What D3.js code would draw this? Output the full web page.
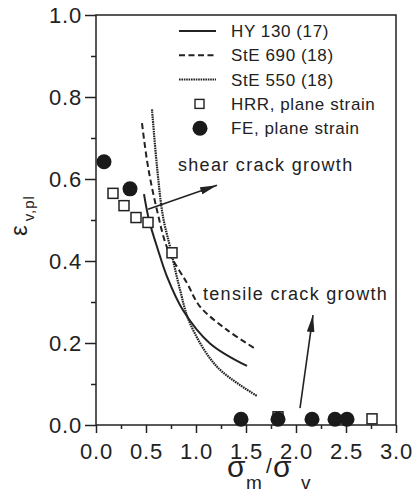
<!DOCTYPE html>
<html lang="en">

<head>
  <meta charset="UTF-8">
  <title>eps v,pl vs sigma m / sigma v</title>
  <script src="https://d3js.org/d3.v7.min.js"></script>
</head>
<style>
  body { margin: 0; background: #fff; }
  text { font-family: "Liberation Sans", Arial, sans-serif; fill: #222; }
</style>

<body>
  <svg width="417" height="500"></svg>
</body>
<script>
  // ---- data ----
  const xTicks = [0, 0.5, 1.0, 1.5, 2.0, 2.5, 3.0];
  const xMinorTicks = [0.25, 0.75, 1.25, 1.75, 2.25, 2.75];
  const yTicks = [0, 0.2, 0.4, 0.6, 0.8, 1.0];
  const yMinorTicks = [0.1, 0.3, 0.5, 0.7, 0.9];

  // curves [sigma_m/sigma_v, eps_v,pl]
  const hy130 = [[0.48, 0.563], [0.53, 0.50], [0.62, 0.427], [0.71, 0.362], [0.87, 0.280], [1.14, 0.199], [1.51, 0.144]];
  const ste690 = [[0.46, 0.736], [0.52, 0.63], [0.61, 0.524], [0.72, 0.427], [0.91, 0.346], [1.04, 0.289], [1.31, 0.232], [1.60, 0.185]];
  const ste550 = [[0.56, 0.770], [0.61, 0.63], [0.67, 0.508], [0.74, 0.435], [0.84, 0.33], [0.94, 0.248], [1.21, 0.142], [1.61, 0.071]];

  // points
  const hrr = [[0.17, 0.565], [0.28, 0.535], [0.40, 0.506], [0.52, 0.494], [0.76, 0.42], [1.82, 0.02], [2.76, 0.015]];
  const fe = [[0.08, 0.642], [0.34, 0.576], [1.45, 0.014], [1.82, 0.014], [2.16, 0.014], [2.39, 0.014], [2.51, 0.014]];

  // arrows [from, to]
  const shearArrow = [[0.52, 0.526], [1.21, 0.585]];
  const tensileArrow = [[2.04, 0.041], [2.17, 0.268]];

  const annotations = [
    { text: 'shear crack growth', x: 0.82, y: 0.62 },
    { text: 'tensile crack growth', x: 1.07, y: 0.305 }
  ];

  const legendItems = [
    { name: 'HY 130 (17)', type: 'solid' },
    { name: 'StE 690 (18)', type: 'dashed' },
    { name: 'StE 550 (18)', type: 'dotted' },
    { name: 'HRR, plane strain', type: 'square' },
    { name: 'FE, plane strain', type: 'circle' }
  ];

  const dashes = { solid: null, dashed: '6,3.5', dotted: '1.6,0.8' };
  const ink = '#222';

  // ---- layout ----
  const svg = d3.select('svg');
  const width = +svg.attr('width');
  const height = +svg.attr('height');
  const margin = { top: 15, right: 21, bottom: 75, left: 96 };
  const innerWidth = width - margin.left - margin.right;
  const innerHeight = height - margin.top - margin.bottom;

  const maingroup = svg.append('g')
    .attr('transform', `translate(${margin.left},${margin.top})`);

  const xScale = d3.scaleLinear().domain([0, 3]).range([0, innerWidth]);
  const yScale = d3.scaleLinear().domain([0, 1]).range([innerHeight, 0]);

  svg.append('defs').append('marker')
    .attr('id', 'head')
    .attr('viewBox', '0 -4 17 8')
    .attr('refX', 17)
    .attr('refY', 0)
    .attr('markerUnits', 'userSpaceOnUse')
    .attr('markerWidth', 17)
    .attr('markerHeight', 8)
    .attr('orient', 'auto')
    .append('path')
    .attr('d', 'M0,-3.8L17,0L0,3.8Z')
    .attr('fill', ink);

  // axes
  const styleAxis = g => {
    g.select('.domain').remove();
    g.selectAll('line').attr('stroke', ink).attr('stroke-width', 1.5);
    g.selectAll('text').attr('font-size', '22px').attr('letter-spacing', '0.8px').attr('fill', ink);
  };

  maingroup.append('g')
    .attr('transform', `translate(0,${innerHeight})`)
    .call(d3.axisBottom(xScale).tickValues(xTicks).tickSize(8).tickPadding(10).tickFormat(d3.format('.1f')))
    .call(styleAxis);
  maingroup.append('g')
    .attr('transform', `translate(0,${innerHeight})`)
    .call(d3.axisBottom(xScale).tickValues(xMinorTicks).tickSize(4).tickFormat(''))
    .call(styleAxis);

  maingroup.append('g')
    .call(d3.axisLeft(yScale).tickValues(yTicks).tickSize(11).tickPadding(3).tickFormat(d3.format('.1f')))
    .call(styleAxis);
  maingroup.append('g')
    .call(d3.axisLeft(yScale).tickValues(yMinorTicks).tickSize(5).tickFormat(''))
    .call(styleAxis);

  // frame
  maingroup.append('rect')
    .attr('width', innerWidth)
    .attr('height', innerHeight)
    .attr('fill', 'none')
    .attr('stroke', ink)
    .attr('stroke-width', 1.5);

  // curves
  const line = d3.line()
    .x(d => xScale(d[0]))
    .y(d => yScale(d[1]))
    .curve(d3.curveCatmullRom.alpha(0.5));

  [[hy130, 'solid', 2], [ste690, 'dashed', 2], [ste550, 'dotted', 2.2]].forEach(([pts, type, w]) => {
    maingroup.append('path')
      .attr('d', line(pts))
      .attr('fill', 'none')
      .attr('stroke', ink)
      .attr('stroke-width', w)
      .attr('stroke-dasharray', dashes[type]);
  });

  // arrows
  [shearArrow, tensileArrow].forEach(a => {
    maingroup.append('line')
      .attr('x1', xScale(a[0][0])).attr('y1', yScale(a[0][1]))
      .attr('x2', xScale(a[1][0])).attr('y2', yScale(a[1][1]))
      .attr('stroke', ink)
      .attr('stroke-width', 1.6)
      .attr('marker-end', 'url(#head)');
  });

  // HRR squares then FE circles
  const sq = 10;
  maingroup.selectAll('.hrr').data(hrr).join('rect')
    .attr('class', 'hrr')
    .attr('x', d => xScale(d[0]) - sq / 2)
    .attr('y', d => yScale(d[1]) - sq / 2)
    .attr('width', sq).attr('height', sq)
    .attr('fill', '#fff')
    .attr('stroke', ink)
    .attr('stroke-width', 1.5);

  maingroup.selectAll('.fe').data(fe).join('circle')
    .attr('class', 'fe')
    .attr('cx', d => xScale(d[0]))
    .attr('cy', d => yScale(d[1]))
    .attr('r', 7.5)
    .attr('fill', '#1a1a1a');

  // annotations
  maingroup.selectAll('.note').data(annotations).join('text')
    .attr('class', 'note')
    .attr('x', d => xScale(d.x))
    .attr('y', d => yScale(d.y))
    .attr('font-size', '18px')
    .attr('letter-spacing', '1.3px')
    .text(d => d.text);

  // legend
  const legend = maingroup.append('g').attr('transform', 'translate(83,16)');
  const rows = legend.selectAll('g').data(legendItems).join('g')
    .attr('transform', (d, i) => `translate(0,${i * 24.3})`);

  rows.filter(d => dashes.hasOwnProperty(d.type)).append('line')
    .attr('x1', 0).attr('x2', 37)
    .attr('stroke', ink)
    .attr('stroke-width', 2)
    .attr('stroke-dasharray', d => dashes[d.type]);
  rows.filter(d => d.type === 'square').append('rect')
    .attr('x', 16).attr('y', -4.5).attr('width', 9).attr('height', 9)
    .attr('fill', '#fff').attr('stroke', ink).attr('stroke-width', 1.4);
  rows.filter(d => d.type === 'circle').append('circle')
    .attr('cx', 21).attr('r', 7.5).attr('fill', '#1a1a1a');
  rows.append('text')
    .attr('x', 52)
    .attr('dy', '0.36em')
    .attr('font-size', '17px')
    .attr('letter-spacing', '0.6px')
    .text(d => d.name);

  // axis titles
  const yTitle = svg.append('text')
    .attr('transform', 'translate(27,236) rotate(-90)')
    .attr('font-size', '24px');
  yTitle.append('tspan').text('ε');
  yTitle.append('tspan').attr('dx', 4).attr('dy', 7).attr('font-size', '15px').attr('letter-spacing', '1px').text('v,pl');

  const xTitle = svg.append('text').attr('font-size', '30px');
  xTitle.append('tspan').attr('x', 227).attr('y', 477).text('σ');
  xTitle.append('tspan').attr('x', 246).attr('y', 489).attr('font-size', '19px').text('m');
  xTitle.append('tspan').attr('x', 266).attr('y', 473).attr('font-size', '21px').text('/');
  xTitle.append('tspan').attr('x', 273).attr('y', 477).text('σ');
  xTitle.append('tspan').attr('x', 301).attr('y', 489).attr('font-size', '19px').text('v');
</script>

</html>
